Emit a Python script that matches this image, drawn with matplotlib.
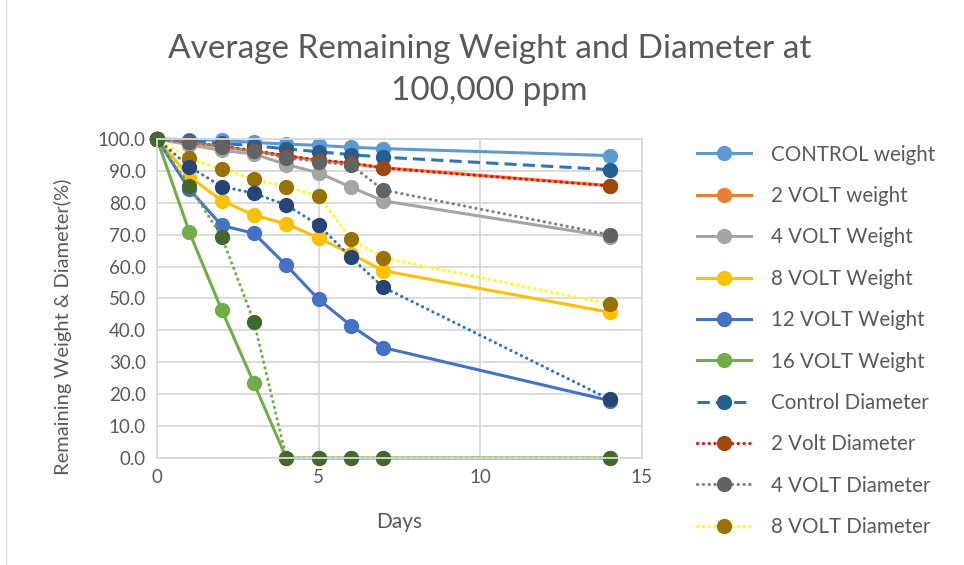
import numpy as np
import matplotlib
matplotlib.use("Agg")
import matplotlib.pyplot as plt
from matplotlib.lines import Line2D

plt.rcParams['font.family'] = ['Lato', 'DejaVu Sans']

#-------------------------------------data-------------------------------------#

days = [0, 1, 2, 3, 4, 5, 6, 7, 14]

control_weight = [100, 99.8, 99.6, 98.9, 98.4, 98.0, 97.4, 97.0, 94.8]
volt2_weight = [100, 99.0, 97.6, 96.2, 94.6, 93.3, 92.3, 91.0, 85.4]
volt4_weight = [100, 98.2, 96.4, 95.3, 92.0, 89.4, 84.9, 80.6, 69.4]
volt8_weight = [100, 88.2, 80.7, 76.1, 73.4, 69.0, 64.0, 58.7, 45.7]
volt12_weight = [100, 84.2, 72.9, 70.4, 60.4, 49.7, 41.5, 34.6, 18.0]
volt16_weight = [100, 70.8, 46.4, 23.4, 0, 0, 0, 0, 0]

control_diam = [100, 99.4, 98.6, 97.9, 96.9, 96.0, 95.1, 94.3, 90.4]
volt2_diam = [100, 99.0, 97.8, 96.4, 94.8, 93.4, 92.5, 90.9, 85.3]
volt4_diam = [100, 99.2, 97.6, 96.2, 94.1, 92.9, 91.8, 84.0, 70.0]
volt8_diam = [100, 93.9, 90.5, 87.5, 85.0, 82.2, 68.5, 62.8, 48.3]
volt12_diam = [100, 91.3, 85.1, 83.0, 79.3, 73.0, 62.9, 53.5, 18.4]
volt16_diam = [100, 85.3, 69.4, 42.7, 0, 0, 0, 0, 0]

series = [
    ("CONTROL weight", control_weight, "#5B9BD5", "#5B9BD5", "-"),
    ("2 VOLT weight", volt2_weight, "#ED7D31", "#ED7D31", "-"),
    ("4 VOLT Weight", volt4_weight, "#A5A5A5", "#A5A5A5", "-"),
    ("8 VOLT Weight", volt8_weight, "#FFC000", "#FFC000", "-"),
    ("12 VOLT Weight", volt12_weight, "#4472C4", "#4472C4", "-"),
    ("16 VOLT Weight", volt16_weight, "#70AD47", "#70AD47", "-"),
    ("Control Diameter", control_diam, "#2E75B6", "#255E91", "dash"),
    ("2 Volt Diameter", volt2_diam, "#FF0000", "#9E480E", "dot"),
    ("4 VOLT Diameter", volt4_diam, "#7F7F7F", "#636363", "dot"),
    ("8 VOLT Diameter", volt8_diam, "#FFFF00", "#997300", "dot"),
    ("12 VOLT Diameter", volt12_diam, "#2E75B6", "#264478", "dot"),
    ("16 VOLT Diameter", volt16_diam, "#70AD47", "#43682B", "dot"),
]

#-------------------------------------drawing-------------------------------------#

fig = plt.figure(figsize=(9.64, 5.65), dpi=100)
ax = fig.add_axes([0.1629, 0.1894, 0.503, 0.5646])

handles = []
for label, vals, lc, mc, style in series:
    line, = ax.plot(days, vals, color=lc, lw=2.2, marker="o", markersize=10,
                    markerfacecolor=mc, markeredgecolor=mc, label=label,
                    clip_on=False)
    if style == "dash":
        line.set_dashes([4, 2])
    elif style == "dot":
        line.set_dashes([0.1, 1.8])
        line.set_dash_capstyle("round")
    handles.append(line)

ax.set_xlim(0, 15)
ax.set_ylim(0, 100)
ax.set_xticks([0, 5, 10, 15])
ax.set_yticks(np.arange(0, 101, 10))
ax.set_yticklabels(["%.1f" % v for v in np.arange(0, 101, 10)])
ax.grid(True, color="#D9D9D9", lw=1.3)
ax.set_axisbelow(True)
for s in ax.spines.values():
    s.set_color("#D9D9D9")
    s.set_linewidth(1.3)
ax.tick_params(length=0, labelsize=13.5, colors="#595959", pad=8)

ax.set_xlabel("Days", fontsize=15, color="#595959", labelpad=19)
ax.set_ylabel("Remaining Weight & Diameter(%)", fontsize=14.5, color="#595959")
ax.yaxis.set_label_coords(-0.175, 0.41)
fig.suptitle("Average Remaining Weight and Diameter at\n100,000 ppm", x=0.508, y=0.94,
             fontsize=24, color="#595959", linespacing=1.5)

# the legend in the original only shows the first ten entries
leg = fig.legend(handles=handles[:10], loc="upper left", bbox_to_anchor=(0.723, 0.744),
                 frameon=False, fontsize=14.8, handlelength=2.65, handletextpad=0.95,
                 labelspacing=1.04, borderpad=0, borderaxespad=0)
for t in leg.get_texts():
    t.set_color("#595959")

fig.add_artist(Line2D([0.006, 0.006], [0, 1], color="#D9D9D9", lw=1))

plt.savefig("out.png", dpi=100)
